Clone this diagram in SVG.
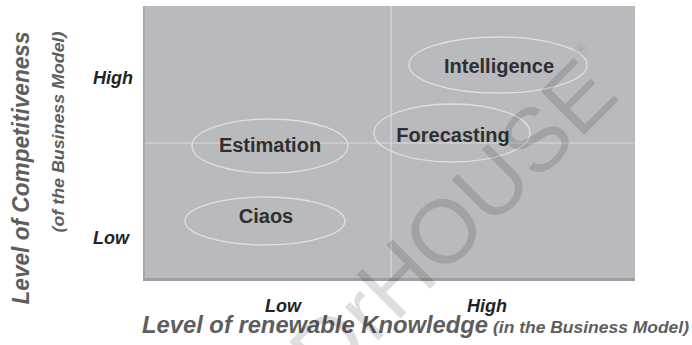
<svg xmlns="http://www.w3.org/2000/svg" width="692" height="345" viewBox="0 0 692 345">
  <style>
    .node-ring { fill: none; stroke: #dedfe1; stroke-width: 1.3; }
    .node-label { font-family: "Liberation Sans", Arial, sans-serif; font-weight: bold; font-size: 20px; fill: #2f2f30; text-anchor: middle; }
    .level { font-family: "Liberation Sans", Arial, sans-serif; font-weight: bold; font-style: italic; font-size: 18px; fill: #232323; }
    .axis-title { font-family: "Liberation Sans", Arial, sans-serif; font-weight: bold; font-style: italic; fill: #5e5e5e; }
    .divider { stroke: #d9dadc; stroke-width: 1.2; }
    .mark { font-family: "Liberation Sans", Arial, sans-serif; fill: #000; fill-opacity: 0.13; }
  </style>

  <rect width="692" height="345" fill="#ffffff"/>

  <!-- matrix panel -->
  <g id="panel">
    <rect x="143" y="6" width="492" height="275" fill="#b9babd"/>
    <rect x="143" y="6" width="2" height="275" fill="#a6a7aa"/>
    <rect x="143" y="278" width="492" height="3" fill="#9d9ea1"/>
  </g>

  <!-- quadrant dividers -->
  <g id="connectors">
    <line class="divider" x1="145" y1="143" x2="635" y2="143"/>
    <line class="divider" x1="391" y1="6" x2="391" y2="278"/>
  </g>

  <g id="intelligence">
    <ellipse class="node-ring" cx="498" cy="65" rx="89" ry="28"/>
    <text class="node-label" x="499" y="73">Intelligence</text>
  </g>
  <g id="forecasting">
    <ellipse class="node-ring" cx="452" cy="133" rx="78" ry="29"/>
    <text class="node-label" x="453" y="142">Forecasting</text>
  </g>
  <g id="estimation">
    <ellipse class="node-ring" cx="270" cy="146" rx="78" ry="27"/>
    <text class="node-label" x="270" y="152">Estimation</text>
  </g>
  <g id="ciaos">
    <ellipse class="node-ring" cx="265" cy="221" rx="80" ry="24"/>
    <text class="node-label" x="266" y="223">Ciaos</text>
  </g>

  <!-- axis levels -->
  <g id="levels">
    <text class="level" x="93" y="84">High</text>
    <text class="level" x="93" y="244">Low</text>
    <text class="level" x="283" y="312" text-anchor="middle">Low</text>
    <text class="level" x="487" y="312" text-anchor="middle">High</text>
  </g>

  <!-- axis titles -->
  <g id="axis-titles">
    <text class="axis-title" x="142" y="333" font-size="23" textLength="346" lengthAdjust="spacingAndGlyphs">Level of renewable Knowledge</text>
    <text class="axis-title" x="493" y="333" font-size="17" textLength="196" lengthAdjust="spacingAndGlyphs">(in the Business Model)</text>
    <text class="axis-title" x="0" y="0" font-size="23" text-anchor="middle" textLength="273" lengthAdjust="spacingAndGlyphs" transform="translate(29,168) rotate(-90)">Level of Competitiveness</text>
    <text class="axis-title" x="0" y="0" font-size="16" text-anchor="middle" textLength="201" lengthAdjust="spacingAndGlyphs" transform="translate(64,132) rotate(-90)">(of the Business Model)</text>
  </g>

  <!-- diagonal watermark -->
  <g id="watermark">
    <text class="mark" font-size="90" transform="translate(328,391) rotate(-45)">DrHOUSE</text>
    <text class="mark" font-size="16" text-anchor="middle" transform="translate(581,55)">®</text>
  </g>
</svg>
